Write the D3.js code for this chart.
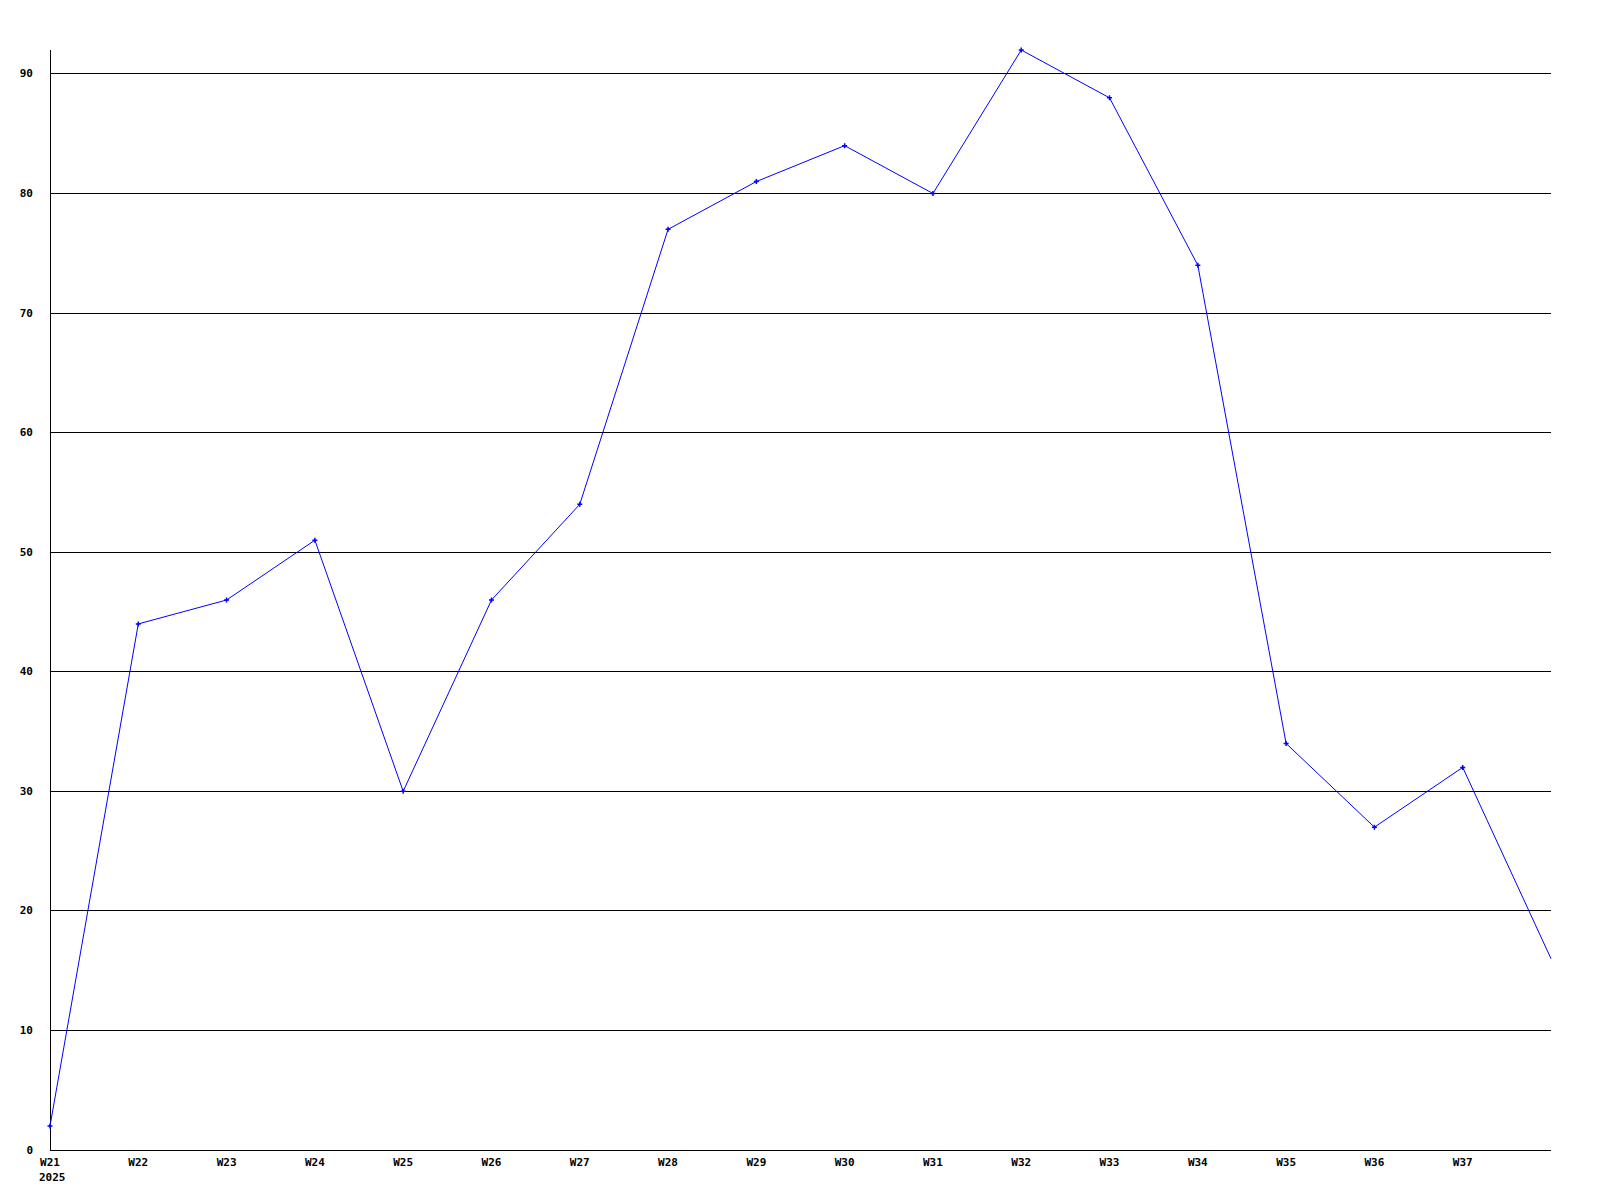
<!DOCTYPE html>
<html>
<head>
<meta charset="utf-8">
<script src="https://cdn.jsdelivr.net/npm/d3@7"></script>
<style>
  body { margin: 0; background: #fff; }
  text { font-family: "DejaVu Sans Mono", monospace; font-weight: bold; font-size: 11px; fill: #000; }
</style>
</head>
<body>
<svg class="viz" width="1600" height="1200"></svg>
<script>
// weekly values
var weeks = ["W21","W22","W23","W24","W25","W26","W27","W28","W29","W30","W31","W32","W33","W34","W35","W36","W37","W38"];
var values = [2, 44, 46, 51, 30, 46, 54, 77, 81, 84, 80, 92, 88, 74, 34, 27, 32, 16];
var yTicks = [0, 10, 20, 30, 40, 50, 60, 70, 80, 90];
var yearLabel = "2025";

var svg = d3.select(".viz"),
    margin = {top: 50, right: 49, bottom: 50, left: 50},
    width = svg.attr("width") - margin.left - margin.right,
    height = svg.attr("height") - margin.top - margin.bottom;

var dataset = weeks.map(function(w, i) { return {week: w, value: values[i], i: i}; });

var x = d3.scaleLinear().domain([0, weeks.length - 1]).range([0, width]);
var y = d3.scaleLinear().domain([0, 92]).range([height, 0]);

var g = svg.append("g")
    .attr("transform", "translate(" + margin.left + "," + margin.top + ")");

// horizontal grid lines
g.selectAll(".grid").data(yTicks).enter().append("line")
    .attr("x1", 0).attr("x2", width)
    .attr("y1", function(d) { return Math.floor(y(d)) + 0.5; })
    .attr("y2", function(d) { return Math.floor(y(d)) + 0.5; })
    .style("stroke", "#000").style("stroke-width", "1px");

// y axis line
g.append("line")
    .attr("x1", 0.5).attr("x2", 0.5)
    .attr("y1", 0).attr("y2", height)
    .style("stroke", "#000");

// y labels
g.selectAll(".ylab").data(yTicks).enter().append("text")
    .attr("x", -17)
    .attr("y", function(d) { return Math.floor(y(d)) + 4; })
    .attr("text-anchor", "end")
    .text(function(d) { return d; });

// x labels (last week has no label)
g.selectAll(".xlab").data(dataset.slice(0, weeks.length - 1)).enter().append("text")
    .attr("x", function(d) { return x(d.i); })
    .attr("y", height + 16)
    .attr("text-anchor", "middle")
    .text(function(d) { return d.week; });

g.append("text")
    .attr("x", -11)
    .attr("y", height + 31)
    .text(yearLabel);

// the line
var line = d3.line()
    .x(function(d) { return x(d.i); })
    .y(function(d) { return y(d.value); });

g.append("path")
    .datum(dataset)
    .attr("d", line)
    .style("fill", "none")
    .style("stroke", "#0000ff")
    .style("stroke-width", "1px");

// point markers
g.selectAll(".pt").data(dataset.slice(0, weeks.length - 1)).enter().append("path")
    .attr("transform", function(d) { return "translate(" + x(d.i) + "," + y(d.value) + ")"; })
    .attr("d", "M-2.5,0L2.5,0M0,-2.5L0,2.5")
    .style("stroke", "#0000ff")
    .style("stroke-width", "1.5px");
</script>
</body>
</html>
